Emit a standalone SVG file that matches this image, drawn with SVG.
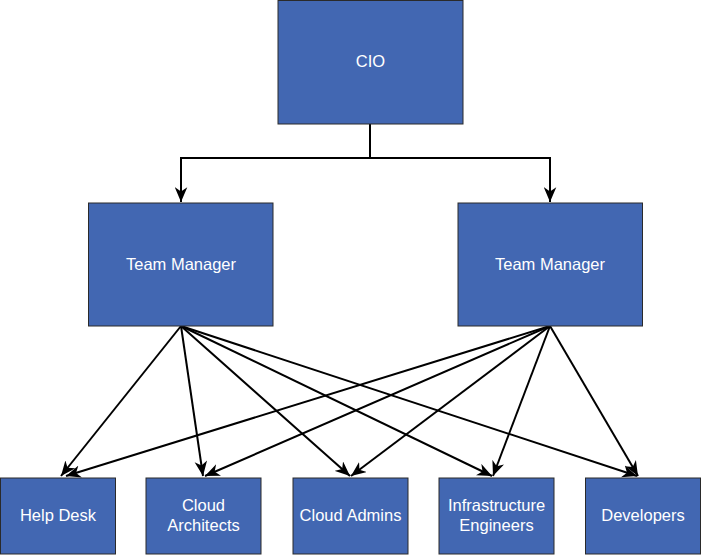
<svg xmlns="http://www.w3.org/2000/svg" width="701" height="555" viewBox="0 0 701 555">
  <style>
    .box { fill: #4267b2; stroke: #2a2a2a; stroke-width: 1; }
    .lbl { fill: #ffffff; font-family: "Liberation Sans", Arial, sans-serif; font-size: 16.5px; text-anchor: middle; dominant-baseline: central; }
    .conn { fill: none; stroke: #000000; stroke-width: 2; marker-end: url(#arr); }
  </style>
  <defs>
    <marker id="arr" markerUnits="userSpaceOnUse" markerWidth="16" markerHeight="13" refX="13" refY="5.5" orient="auto" viewBox="0 0 14 11">
      <path d="M0,0 L13,5.5 L0,11 L3.8,5.5 Z" fill="#000000"/>
    </marker>
  </defs>
  <rect width="701" height="555" fill="#ffffff"/>

  <g id="connectors">
    <path class="conn" d="M370,124 V158 H181 V202"/>
    <path class="conn" d="M370,124 V158 H550 V202"/>
    <path class="conn" d="M181,326 L61,476"/>
    <path class="conn" d="M181,326 L203,476"/>
    <path class="conn" d="M181,326 L350,476"/>
    <path class="conn" d="M181,326 L492,476"/>
    <path class="conn" d="M181,326 L637,476"/>
    <path class="conn" d="M550,326 L66,476"/>
    <path class="conn" d="M550,326 L205,476"/>
    <path class="conn" d="M550,326 L351,476"/>
    <path class="conn" d="M550,326 L493,476"/>
    <path class="conn" d="M550,326 L638,476"/>
  </g>

  <g id="cio">
    <rect class="box" x="278" y="0.5" width="185" height="123.5"/>
    <text class="lbl" x="370.5" y="61">CIO</text>
  </g>
  <g id="tm-left">
    <rect class="box" x="88.5" y="203" width="184.5" height="123"/>
    <text class="lbl" x="181" y="263.5">Team Manager</text>
  </g>
  <g id="tm-right">
    <rect class="box" x="458" y="203" width="184.5" height="123"/>
    <text class="lbl" x="550" y="263.5">Team Manager</text>
  </g>
  <g id="help-desk">
    <rect class="box" x="0.5" y="478" width="115" height="76"/>
    <text class="lbl" x="58" y="515">Help Desk</text>
  </g>
  <g id="cloud-architects">
    <rect class="box" x="146" y="478" width="115" height="76"/>
    <text class="lbl" x="203.5" y="505">Cloud</text>
    <text class="lbl" x="203.5" y="524.5">Architects</text>
  </g>
  <g id="cloud-admins">
    <rect class="box" x="293" y="478" width="115" height="76"/>
    <text class="lbl" x="350.5" y="515">Cloud Admins</text>
  </g>
  <g id="infrastructure-engineers">
    <rect class="box" x="439" y="478" width="115" height="76"/>
    <text class="lbl" x="496.5" y="505">Infrastructure</text>
    <text class="lbl" x="496.5" y="524.5">Engineers</text>
  </g>
  <g id="developers">
    <rect class="box" x="585.5" y="478" width="115" height="76"/>
    <text class="lbl" x="643" y="515">Developers</text>
  </g>
</svg>
